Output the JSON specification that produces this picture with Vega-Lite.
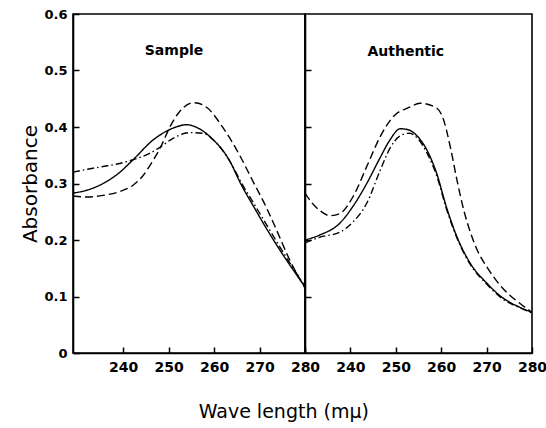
{
  "$schema": "https://vega.github.io/schema/vega-lite/v6.json",
  "padding": {"left": 20, "top": 7, "right": 0, "bottom": 4},
  "background": "white",
  "bounds": "flush",
  "datasets": {
    "curves": [
      {"panel": "Sample", "series": "dashed", "wl": 229, "A": 0.278},
      {"panel": "Sample", "series": "dashed", "wl": 232, "A": 0.276},
      {"panel": "Sample", "series": "dashed", "wl": 235.6, "A": 0.279},
      {"panel": "Sample", "series": "dashed", "wl": 239, "A": 0.285},
      {"panel": "Sample", "series": "dashed", "wl": 242.2, "A": 0.297},
      {"panel": "Sample", "series": "dashed", "wl": 244.5, "A": 0.315},
      {"panel": "Sample", "series": "dashed", "wl": 246, "A": 0.333},
      {"panel": "Sample", "series": "dashed", "wl": 248.3, "A": 0.365},
      {"panel": "Sample", "series": "dashed", "wl": 250.3, "A": 0.4},
      {"panel": "Sample", "series": "dashed", "wl": 252.5, "A": 0.428},
      {"panel": "Sample", "series": "dashed", "wl": 255.6, "A": 0.443},
      {"panel": "Sample", "series": "dashed", "wl": 258.5, "A": 0.434},
      {"panel": "Sample", "series": "dashed", "wl": 261.7, "A": 0.402},
      {"panel": "Sample", "series": "dashed", "wl": 265.5, "A": 0.352},
      {"panel": "Sample", "series": "dashed", "wl": 268.3, "A": 0.308},
      {"panel": "Sample", "series": "dashed", "wl": 271.6, "A": 0.256},
      {"panel": "Sample", "series": "dashed", "wl": 274, "A": 0.213},
      {"panel": "Sample", "series": "dashed", "wl": 276.5, "A": 0.167},
      {"panel": "Sample", "series": "dashed", "wl": 280, "A": 0.115},
      {"panel": "Sample", "series": "solid", "wl": 229, "A": 0.283},
      {"panel": "Sample", "series": "solid", "wl": 232, "A": 0.288},
      {"panel": "Sample", "series": "solid", "wl": 235.6, "A": 0.3},
      {"panel": "Sample", "series": "solid", "wl": 239, "A": 0.318},
      {"panel": "Sample", "series": "solid", "wl": 242.2, "A": 0.342},
      {"panel": "Sample", "series": "solid", "wl": 246.6, "A": 0.377},
      {"panel": "Sample", "series": "solid", "wl": 251, "A": 0.398},
      {"panel": "Sample", "series": "solid", "wl": 254, "A": 0.404},
      {"panel": "Sample", "series": "solid", "wl": 256.5, "A": 0.398},
      {"panel": "Sample", "series": "solid", "wl": 259.5, "A": 0.38},
      {"panel": "Sample", "series": "solid", "wl": 263.3, "A": 0.342},
      {"panel": "Sample", "series": "solid", "wl": 266.1, "A": 0.296},
      {"panel": "Sample", "series": "solid", "wl": 268.8, "A": 0.258},
      {"panel": "Sample", "series": "solid", "wl": 271.4, "A": 0.222},
      {"panel": "Sample", "series": "solid", "wl": 274.9, "A": 0.177},
      {"panel": "Sample", "series": "solid", "wl": 278.7, "A": 0.132},
      {"panel": "Sample", "series": "solid", "wl": 280, "A": 0.117},
      {"panel": "Sample", "series": "dashdot", "wl": 229, "A": 0.32},
      {"panel": "Sample", "series": "dashdot", "wl": 232, "A": 0.325},
      {"panel": "Sample", "series": "dashdot", "wl": 235.6, "A": 0.33},
      {"panel": "Sample", "series": "dashdot", "wl": 239, "A": 0.335},
      {"panel": "Sample", "series": "dashdot", "wl": 242.2, "A": 0.342},
      {"panel": "Sample", "series": "dashdot", "wl": 245.5, "A": 0.352},
      {"panel": "Sample", "series": "dashdot", "wl": 248.1, "A": 0.364},
      {"panel": "Sample", "series": "dashdot", "wl": 251, "A": 0.38},
      {"panel": "Sample", "series": "dashdot", "wl": 254.7, "A": 0.39},
      {"panel": "Sample", "series": "dashdot", "wl": 257.5, "A": 0.389},
      {"panel": "Sample", "series": "dashdot", "wl": 260, "A": 0.376},
      {"panel": "Sample", "series": "dashdot", "wl": 263.3, "A": 0.342},
      {"panel": "Sample", "series": "dashdot", "wl": 266.1, "A": 0.3},
      {"panel": "Sample", "series": "dashdot", "wl": 268.8, "A": 0.264},
      {"panel": "Sample", "series": "dashdot", "wl": 271.4, "A": 0.229},
      {"panel": "Sample", "series": "dashdot", "wl": 274.9, "A": 0.182},
      {"panel": "Sample", "series": "dashdot", "wl": 278.7, "A": 0.134},
      {"panel": "Sample", "series": "dashdot", "wl": 280, "A": 0.118},
      {"panel": "Authentic", "series": "dashed", "wl": 230, "A": 0.283},
      {"panel": "Authentic", "series": "dashed", "wl": 231.5, "A": 0.266},
      {"panel": "Authentic", "series": "dashed", "wl": 233.3, "A": 0.252},
      {"panel": "Authentic", "series": "dashed", "wl": 235.5, "A": 0.243},
      {"panel": "Authentic", "series": "dashed", "wl": 237.7, "A": 0.247},
      {"panel": "Authentic", "series": "dashed", "wl": 240.6, "A": 0.277},
      {"panel": "Authentic", "series": "dashed", "wl": 243.6, "A": 0.33},
      {"panel": "Authentic", "series": "dashed", "wl": 246.5, "A": 0.382},
      {"panel": "Authentic", "series": "dashed", "wl": 249.4, "A": 0.418},
      {"panel": "Authentic", "series": "dashed", "wl": 253, "A": 0.435},
      {"panel": "Authentic", "series": "dashed", "wl": 255.3, "A": 0.442},
      {"panel": "Authentic", "series": "dashed", "wl": 258.5, "A": 0.436},
      {"panel": "Authentic", "series": "dashed", "wl": 260.3, "A": 0.418},
      {"panel": "Authentic", "series": "dashed", "wl": 262, "A": 0.365},
      {"panel": "Authentic", "series": "dashed", "wl": 263.5, "A": 0.305},
      {"panel": "Authentic", "series": "dashed", "wl": 265, "A": 0.252},
      {"panel": "Authentic", "series": "dashed", "wl": 266.5, "A": 0.212},
      {"panel": "Authentic", "series": "dashed", "wl": 268, "A": 0.181},
      {"panel": "Authentic", "series": "dashed", "wl": 270, "A": 0.153},
      {"panel": "Authentic", "series": "dashed", "wl": 273.5, "A": 0.115},
      {"panel": "Authentic", "series": "dashed", "wl": 277.3, "A": 0.088},
      {"panel": "Authentic", "series": "dashed", "wl": 280, "A": 0.072},
      {"panel": "Authentic", "series": "solid", "wl": 230, "A": 0.2},
      {"panel": "Authentic", "series": "solid", "wl": 233.3, "A": 0.209},
      {"panel": "Authentic", "series": "solid", "wl": 237.7, "A": 0.23},
      {"panel": "Authentic", "series": "solid", "wl": 240.6, "A": 0.26},
      {"panel": "Authentic", "series": "solid", "wl": 243.6, "A": 0.3},
      {"panel": "Authentic", "series": "solid", "wl": 246.5, "A": 0.345},
      {"panel": "Authentic", "series": "solid", "wl": 248.7, "A": 0.377},
      {"panel": "Authentic", "series": "solid", "wl": 251, "A": 0.397},
      {"panel": "Authentic", "series": "solid", "wl": 252.8, "A": 0.395},
      {"panel": "Authentic", "series": "solid", "wl": 254.6, "A": 0.385},
      {"panel": "Authentic", "series": "solid", "wl": 256.8, "A": 0.36},
      {"panel": "Authentic", "series": "solid", "wl": 259, "A": 0.318},
      {"panel": "Authentic", "series": "solid", "wl": 261.2, "A": 0.257},
      {"panel": "Authentic", "series": "solid", "wl": 263.4, "A": 0.207},
      {"panel": "Authentic", "series": "solid", "wl": 266.3, "A": 0.16},
      {"panel": "Authentic", "series": "solid", "wl": 270, "A": 0.124},
      {"panel": "Authentic", "series": "solid", "wl": 273.5, "A": 0.098},
      {"panel": "Authentic", "series": "solid", "wl": 277.3, "A": 0.081},
      {"panel": "Authentic", "series": "solid", "wl": 280, "A": 0.072},
      {"panel": "Authentic", "series": "dashdot", "wl": 230, "A": 0.195},
      {"panel": "Authentic", "series": "dashdot", "wl": 233.3, "A": 0.205},
      {"panel": "Authentic", "series": "dashdot", "wl": 237.7, "A": 0.214},
      {"panel": "Authentic", "series": "dashdot", "wl": 240.6, "A": 0.232},
      {"panel": "Authentic", "series": "dashdot", "wl": 243.6, "A": 0.265},
      {"panel": "Authentic", "series": "dashdot", "wl": 246.5, "A": 0.322},
      {"panel": "Authentic", "series": "dashdot", "wl": 248.7, "A": 0.362},
      {"panel": "Authentic", "series": "dashdot", "wl": 250.9, "A": 0.384},
      {"panel": "Authentic", "series": "dashdot", "wl": 253, "A": 0.389},
      {"panel": "Authentic", "series": "dashdot", "wl": 255, "A": 0.378},
      {"panel": "Authentic", "series": "dashdot", "wl": 257, "A": 0.352},
      {"panel": "Authentic", "series": "dashdot", "wl": 259, "A": 0.314},
      {"panel": "Authentic", "series": "dashdot", "wl": 261.2, "A": 0.254},
      {"panel": "Authentic", "series": "dashdot", "wl": 263.4, "A": 0.205},
      {"panel": "Authentic", "series": "dashdot", "wl": 266.3, "A": 0.158},
      {"panel": "Authentic", "series": "dashdot", "wl": 270, "A": 0.122},
      {"panel": "Authentic", "series": "dashdot", "wl": 273.5, "A": 0.096},
      {"panel": "Authentic", "series": "dashdot", "wl": 277.3, "A": 0.08},
      {"panel": "Authentic", "series": "dashdot", "wl": 280, "A": 0.071}
    ],
    "labels": [
      {"panel": "Sample", "wl": 251.2, "A": 0.535, "label": "Sample"},
      {"panel": "Authentic", "wl": 252.2, "A": 0.533, "label": "Authentic"}
    ]
  },
  "title": {
    "text": "Wave length (mμ)",
    "orient": "bottom",
    "anchor": "middle",
    "font": "DejaVu Sans",
    "fontSize": 19,
    "fontWeight": "normal",
    "color": "black",
    "offset": 28
  },
  "spacing": 0,
  "hconcat": [
    {
      "width": 232,
      "height": 339,
      "layer": [
        {
          "data": {"name": "curves"},
          "transform": [{"filter": "datum.panel === 'Sample'"}],
          "mark": {"type": "line", "interpolate": "monotone", "color": "black", "strokeWidth": 1.4, "clip": true},
          "encoding": {
            "x": {"field": "wl", "type": "quantitative", "scale": {"domain": [229, 280], "nice": false, "zero": false},
              "axis": {"values": [240, 250, 260, 270, 280], "title": null, "tickSize": -6, "labelPadding": 13, "labelFontSize": 14, "labelFlush": false}},
            "y": {"field": "A", "type": "quantitative", "scale": {"domain": [0, 0.6], "nice": false},
              "axis": {"values": [0, 0.1, 0.2, 0.3, 0.4, 0.5, 0.6], "title": "Absorbance", "tickSize": -6, "labelPadding": 12, "labelFlush": false,
                "labelExpr": "datum.value == 0 ? '0' : format(datum.value, '.1f')",
                "titleFontSize": 20, "titleFontWeight": "normal", "titlePadding": 3}},
            "strokeDash": {"field": "series", "type": "nominal", "legend": null,
              "scale": {"domain": ["solid", "dashed", "dashdot"], "range": [[1, 0], [8, 4], [7, 3, 1.5, 3]]}},
            "detail": {"field": "series"}
          }
        },
        {
          "data": {"name": "labels"},
          "transform": [{"filter": "datum.panel === 'Sample'"}],
          "mark": {"type": "text", "font": "DejaVu Sans", "fontSize": 14, "fontWeight": "bold", "color": "black"},
          "encoding": {
            "x": {"field": "wl", "type": "quantitative"},
            "y": {"field": "A", "type": "quantitative"},
            "text": {"field": "label"}
          }
        }
      ]
    },
    {
      "width": 227,
      "height": 339,
      "layer": [
        {
          "data": {"name": "curves"},
          "transform": [{"filter": "datum.panel === 'Authentic'"}],
          "mark": {"type": "line", "interpolate": "monotone", "color": "black", "strokeWidth": 1.4, "clip": true},
          "encoding": {
            "x": {"field": "wl", "type": "quantitative", "scale": {"domain": [230, 280], "nice": false, "zero": false},
              "axis": {"values": [240, 250, 260, 270, 280], "title": null, "tickSize": -6, "labelPadding": 13, "labelFontSize": 14, "labelFlush": false}},
            "y": {"field": "A", "type": "quantitative", "scale": {"domain": [0, 0.6], "nice": false},
              "axis": {"values": [0.1, 0.2, 0.3, 0.4, 0.5], "title": null, "labels": false, "tickSize": -6, "minExtent": 0, "maxExtent": 0}},
            "strokeDash": {"field": "series", "type": "nominal", "legend": null,
              "scale": {"domain": ["solid", "dashed", "dashdot"], "range": [[1, 0], [8, 4], [7, 3, 1.5, 3]]}},
            "detail": {"field": "series"}
          }
        },
        {
          "data": {"name": "labels"},
          "transform": [{"filter": "datum.panel === 'Authentic'"}],
          "mark": {"type": "text", "font": "DejaVu Sans", "fontSize": 14, "fontWeight": "bold", "color": "black"},
          "encoding": {
            "x": {"field": "wl", "type": "quantitative"},
            "y": {"field": "A", "type": "quantitative"},
            "text": {"field": "label"}
          }
        }
      ]
    }
  ],
  "config": {
    "view": {"stroke": "black", "strokeWidth": 1.6},
    "axis": {
      "grid": false,
      "domainColor": "black",
      "domainWidth": 1.6,
      "tickColor": "black",
      "tickWidth": 1.5,
      "labelColor": "black",
      "labelFont": "DejaVu Sans",
      "labelFontSize": 13,
      "labelFontWeight": "bold",
      "titleColor": "black",
      "titleFont": "DejaVu Sans"
    }
  }
}
